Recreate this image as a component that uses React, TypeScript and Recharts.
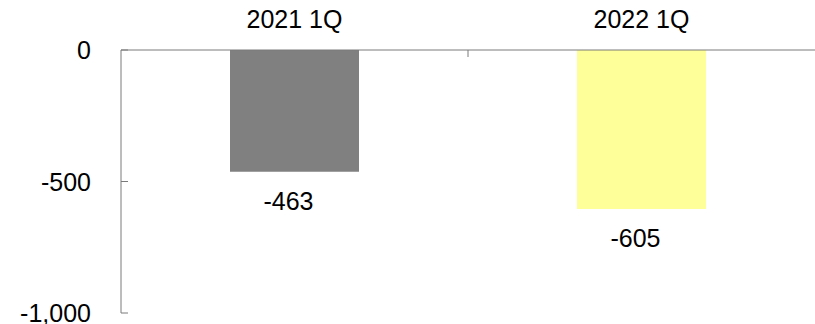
import React from 'react';
import { Bar, BarChart, Cell, LabelList, XAxis, YAxis } from 'recharts';

const quarters = ['2021 1Q', '2022 1Q'];
const values = [-463, -605];
const barColors = ['#808080', '#FFFF99'];
const yTicks = [0, -500, -1000];

const WIDTH = 815;
const HEIGHT = 324;
const Y_AXIS_W = 121;
const X_AXIS_H = 50;
const FONT = '"Liberation Sans", Arial, sans-serif';
const FONT_SIZE = 25;
const AXIS_COLOR = '#7a7a7a';

const data = quarters.map((q, i) => ({ quarter: q, value: values[i] }));
const bandWidth = (WIDTH - Y_AXIS_W) / quarters.length;

const fmt = (v: number) => v.toLocaleString('en-US');

// quarter labels sit above the top axis; a short tick marks each category boundary
const QuarterTick = (props: any) => {
  const { x, y, payload, index } = props;
  const boundary = x + bandWidth / 2;
  return (
    <g>
      <text x={x} y={y - 22} textAnchor="middle" fontSize={FONT_SIZE} fontFamily={FONT} fill="#000">
        {payload.value}
      </text>
      {index < quarters.length - 1 && (
        <line x1={boundary} y1={y} x2={boundary} y2={y + 7} stroke={AXIS_COLOR} strokeWidth={1} />
      )}
    </g>
  );
};

// value ticks point into the plot area
const ValueTick = (props: any) => {
  const { x, y, payload } = props;
  return (
    <g>
      <text
        x={x}
        y={y}
        textAnchor="end"
        dominantBaseline="central"
        fontSize={FONT_SIZE}
        fontFamily={FONT}
        fill="#000"
      >
        {fmt(payload.value)}
      </text>
      <line x1={x + 30} y1={y} x2={x + 37} y2={y} stroke={AXIS_COLOR} strokeWidth={1} />
    </g>
  );
};

const ValueLabel = (props: any) => {
  const { x, y, width, height, value } = props;
  const bottom = Math.max(y, y + height);
  return (
    <text
      x={x + width / 2 - 6}
      y={bottom + 29}
      textAnchor="middle"
      dominantBaseline="central"
      fontSize={FONT_SIZE}
      fontFamily={FONT}
      fill="#000"
    >
      {fmt(value)}
    </text>
  );
};

export default function App() {
  return (
    <div style={{ position: 'absolute', left: 0, top: 0, background: '#fff' }}>
      <BarChart width={WIDTH} height={HEIGHT} data={data} margin={{ top: 0, right: 0, bottom: 11, left: 0 }}>
        <XAxis
          dataKey="quarter"
          orientation="top"
          height={X_AXIS_H}
          axisLine={{ stroke: AXIS_COLOR, strokeWidth: 1 }}
          tickLine={false}
          tickSize={0}
          tickMargin={0}
          tick={<QuarterTick />}
          interval={0}
        />
        <YAxis
          domain={[-1000, 0]}
          ticks={yTicks}
          width={Y_AXIS_W}
          axisLine={{ stroke: AXIS_COLOR, strokeWidth: 1 }}
          tickLine={false}
          tickSize={0}
          tickMargin={30}
          tick={<ValueTick />}
          interval={0}
        />
        <Bar dataKey="value" barSize={129} isAnimationActive={false}>
          {data.map((d, i) => (
            <Cell key={d.quarter} fill={barColors[i]} />
          ))}
          <LabelList dataKey="value" content={<ValueLabel />} />
        </Bar>
      </BarChart>
    </div>
  );
}
